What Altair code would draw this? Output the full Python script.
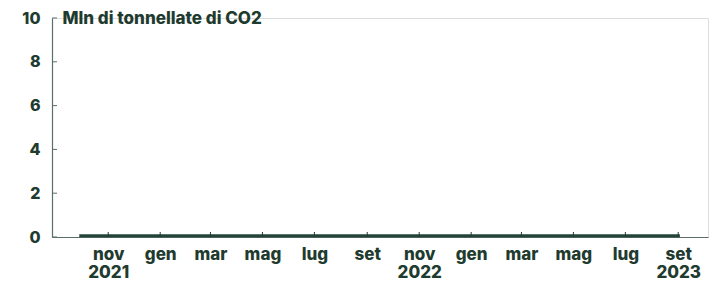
import altair as alt
import pandas as pd

dates = ["2021-09-28", "2021-11-01", "2021-12-01", "2022-01-01", "2022-02-01", "2022-03-01",
         "2022-04-01", "2022-05-01", "2022-06-01", "2022-07-01", "2022-08-01", "2022-09-01",
         "2022-10-01", "2022-11-01", "2022-12-01", "2023-01-01", "2023-02-01", "2023-03-01",
         "2023-04-01", "2023-05-01", "2023-06-01", "2023-07-01", "2023-08-01", "2023-09-03"]
values = [0.06] * len(dates)

tick_dates = ["2021-11-01", "2022-01-01", "2022-03-01", "2022-05-01", "2022-07-01", "2022-09-01",
              "2022-11-01", "2023-01-01", "2023-03-01", "2023-05-01", "2023-07-01", "2023-09-01"]
y_ticks = [0, 2, 4, 6, 8, 10]
x_domain = ["2021-08-27", "2023-10-06"]

TEXT = "#1f3b2f"
AXIS = "#5c6e65"
LINE = "#23443a"
FONT = "Inter"
W, H = 656, 219

df = pd.DataFrame({"date": pd.to_datetime(dates), "value": values})
tdf = pd.DataFrame({"date": pd.to_datetime(tick_dates)})
ydf = pd.DataFrame({"v": y_ticks})

xscale = alt.Scale(domain=[pd.Timestamp(d).isoformat() for d in x_domain])
yscale = alt.Scale(domain=[0, 10])

label_expr = (
    "(['gen','feb','mar','apr','mag','giu','lug','ago','set','ott','nov','dic'])[month(datum.value)]"
    " + ((month(datum.value) == 10 || (month(datum.value) == 8 && year(datum.value) == 2023)) ? '\\n' + year(datum.value) : '')"
)

line = alt.Chart(df).mark_line(color=LINE, strokeWidth=3).encode(
    x=alt.X("date:T", scale=xscale,
            axis=alt.Axis(values=[pd.Timestamp(d).isoformat() for d in tick_dates],
                          labelExpr="split(" + label_expr + ", '\\n')",
                          ticks=False, domainColor=AXIS, domainWidth=1.2,
                          labelFont=FONT, labelFontWeight=800, labelFontSize=17,
                          labelColor=TEXT, labelPadding=9, labelLineHeight=18,
                          labelBaseline="top", title=None, grid=False, labelOverlap=False)),
    y=alt.Y("value:Q", scale=yscale,
            axis=alt.Axis(values=y_ticks, ticks=False, domainColor=AXIS, domainWidth=1.2,
                          labelFont=FONT, labelFontWeight=800, labelFontSize=16,
                          labelColor=TEXT, labelPadding=12, grid=False,
                          title="Mln di tonnellate di CO2", titleAngle=0, titleX=10, titleY=0,
                          titleAlign="left", titleBaseline="middle", titleFont=FONT,
                          titleFontWeight=800, titleFontSize=17, titleColor=TEXT)),
)

xticks = alt.Chart(tdf).mark_rule(color=TEXT, strokeWidth=1).encode(
    x=alt.X("date:T", scale=xscale),
    y=alt.value(H - 0.5), y2=alt.value(H - 5),
)

yticks = alt.Chart(ydf).mark_rule(color=AXIS, strokeWidth=1).encode(
    y=alt.Y("v:Q", scale=yscale),
    x=alt.value(0), x2=alt.value(5),
)

chart = alt.layer(line, xticks, yticks).properties(
    width=W, height=H,
    autosize=alt.AutoSizeParams(type="none"),
    padding={"left": 44, "top": 10, "right": 2, "bottom": 45},
).configure_view(stroke=None).configure(background="white")

chart.save("out.html", embed_options={"renderer": "svg", "actions": False})
